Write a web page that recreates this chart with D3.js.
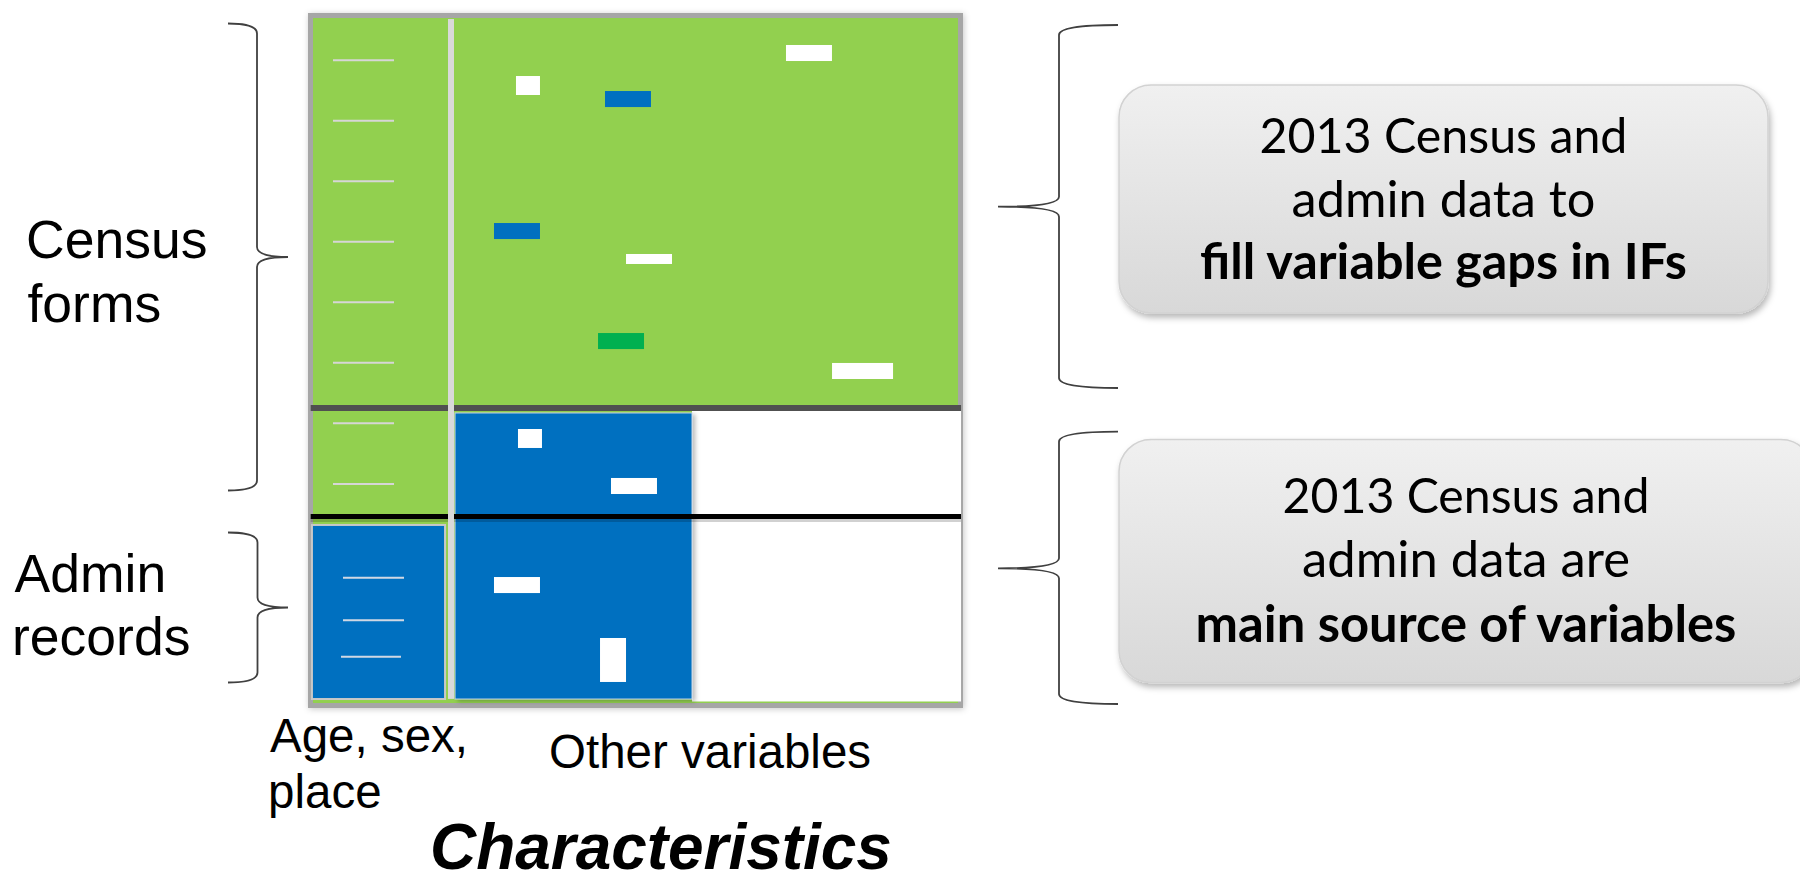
<!DOCTYPE html>
<html><head><meta charset="utf-8">
<script src="https://cdn.jsdelivr.net/npm/d3@7"></script>
<style>html,body{margin:0;padding:0;background:#fff;} svg{display:block;}</style>
</head><body>
<svg id="chart" width="1800" height="874"></svg>
<script>
// ---------- data (percent of the characteristics width / records height) ----------
const leftTickRows   = [6.18, 14.99, 23.84, 32.66, 41.50, 50.32, 59.17, 68.03];
const adminTickRows  = [81.71, 87.93, 93.24];
const adminTickStart = [4.65, 4.65, 4.34];
const adminTickEnd   = [14.11, 14.11, 13.64];

const cellX = [31.47, 45.27, 73.33, 28.06, 48.53, 44.19, 80.47, 31.78, 46.20, 28.06, 44.50];
const cellY = [8.47, 10.66, 3.94, 29.93, 34.45, 45.99, 50.36, 60.00, 67.15, 81.61, 90.51];
const cellW = [3.72, 7.13, 7.13, 7.13, 7.13, 7.13, 9.46, 3.72, 7.13, 7.13, 4.03];
const cellH = [2.77, 2.34, 2.34, 2.34, 1.46, 2.34, 2.34, 2.77, 2.34, 2.34, 6.42];
const cellSource = ["gap","admin","gap","admin","gap","census","gap","gap","gap","gap","gap"];

const sourceKeys   = ["censusForm", "admin", "gap", "census"];
const sourceColors = ["#92d050", "#0070c0", "#ffffff", "#00b050"];

const rowGroupLines = [["Census", "forms"], ["Admin", "records"]];
const colGroupLines = [["Age, sex,", "place"], ["Other variables"]];
const axisTitle = "Characteristics";
const calloutLines = [
  ["2013 Census and", "admin data to", "fill variable gaps in IFs"],
  ["2013 Census and", "admin data are", "main source of variables"]
];

// ---------- setup ----------
const svg = d3.select("#chart");
const x = d3.scaleLinear().domain([0, 100]).range([313, 958]);
const y = d3.scaleLinear().domain([0, 100]).range([18, 703]);
const color = d3.scaleOrdinal().domain(sourceKeys).range(sourceColors);

const defs = svg.append("defs");
const fs1 = defs.append("filter").attr("id","frameShadow").attr("x","-5%").attr("y","-5%").attr("width","110%").attr("height","110%");
fs1.append("feDropShadow").attr("dx",1).attr("dy",1).attr("stdDeviation",3).attr("flood-color","#000").attr("flood-opacity",0.22);
const fs2 = defs.append("filter").attr("id","boxShadow").attr("x","-5%").attr("y","-10%").attr("width","115%").attr("height","125%");
fs2.append("feDropShadow").attr("dx",2).attr("dy",4).attr("stdDeviation",3).attr("flood-color","#000").attr("flood-opacity",0.28);
const fs3 = defs.append("filter").attr("id","blueShadow").attr("x","-5%").attr("y","-5%").attr("width","115%").attr("height","115%");
fs3.append("feDropShadow").attr("dx",3).attr("dy",2).attr("stdDeviation",2).attr("flood-color","#000").attr("flood-opacity",0.25);
const grad = defs.append("linearGradient").attr("id","boxGrad").attr("x1",0).attr("y1",0).attr("x2",0).attr("y2",1);
grad.append("stop").attr("offset","0%").attr("stop-color","#f0f0f0");
grad.append("stop").attr("offset","100%").attr("stop-color","#d8d8d8");

// ---------- matrix ----------
const g = svg.append("g");
// frame
g.append("rect").attr("x", x(0) - 2.5).attr("y", y(0) - 2.5)
  .attr("width", x(100) - x(0) + 5).attr("height", y(100) - y(0) + 5)
  .attr("fill", color("censusForm")).attr("stroke", "#a6a6a6").attr("stroke-width", 5)
  .attr("filter", "url(#frameShadow)");

// not-collected area (white)
g.append("rect").attr("x", x(58.76)).attr("y", y(57.37))
  .attr("width", x(100.47) - x(58.76)).attr("height", y(99.78) - y(57.37))
  .attr("fill", "#ffffff");
// admin block among other variables
g.append("rect").attr("x", x(22.02)).attr("y", y(57.66))
  .attr("width", x(58.76) - x(22.02)).attr("height", y(99.42) - y(57.66))
  .attr("fill", color("admin")).attr("stroke", "#c5d3e3").attr("stroke-width", 1)
  .attr("filter", "url(#blueShadow)");
// admin block for age/sex/place
g.append("rect").attr("x", x(-0.16)).attr("y", y(74.01))
  .attr("width", x(20.47) - x(-0.16)).attr("height", y(99.42) - y(74.01))
  .attr("fill", color("admin")).attr("stroke", "#c8c8c8").attr("stroke-width", 2);

// ticks in left column
g.selectAll(".ltick").data(leftTickRows).join("line").attr("class","ltick")
  .attr("x1", x(3.1)).attr("x2", x(12.56))
  .attr("y1", d => y(d)).attr("y2", d => y(d))
  .attr("stroke", "#d6d6d6").attr("stroke-width", 2);
g.selectAll(".atick").data(adminTickRows).join("line").attr("class","atick")
  .attr("x1", (d,i) => x(adminTickStart[i])).attr("x2", (d,i) => x(adminTickEnd[i]))
  .attr("y1", d => y(d)).attr("y2", d => y(d))
  .attr("stroke", "#d0d8e4").attr("stroke-width", 2);

// cells
g.selectAll(".cell").data(cellX).join("rect").attr("class","cell")
  .attr("x", d => x(d)).attr("y", (d,i) => y(cellY[i]))
  .attr("width", (d,i) => x(d + cellW[i]) - x(d))
  .attr("height", (d,i) => y(cellY[i] + cellH[i]) - y(cellY[i]))
  .attr("fill", (d,i) => color(cellSource[i]));

// horizontal separators
const segs = [[-0.36, 20.93], [21.86, 100.47]];
g.selectAll(".dline").data(segs).join("line").attr("class","dline")
  .attr("x1", d => x(d[0])).attr("x2", d => x(d[1]))
  .attr("y1", y(56.93)).attr("y2", y(56.93))
  .attr("stroke", "#505050").attr("stroke-width", 6);
// soft shadow under the black separator
g.selectAll(".bshadow").data(segs).join("line").attr("class","bshadow")
  .attr("x1", d => x(d[0])).attr("x2", d => x(d[1]))
  .attr("y1", y(72.77) + 3.5).attr("y2", y(72.77) + 3.5)
  .attr("stroke", "#000").attr("stroke-opacity", 0.18).attr("stroke-width", 4);
g.selectAll(".bline").data(segs).join("line").attr("class","bline")
  .attr("x1", d => x(d[0])).attr("x2", d => x(d[1]))
  .attr("y1", y(72.77)).attr("y2", y(72.77))
  .attr("stroke", "#000").attr("stroke-width", 5);
// vertical divider
g.append("rect").attr("x", x(20.93)).attr("y", y(0.15))
  .attr("width", x(21.86) - x(20.93)).attr("height", y(99.4) - y(0.15))
  .attr("fill", "#d9d9d9");

// ---------- braces ----------
function brace(xEnd, xV, xTip, top, mid, bot, r) {
  return `M${xEnd},${top} Q${xV},${top} ${xV},${top + r} L${xV},${mid - r} Q${xV},${mid} ${xTip},${mid} ` +
         `Q${xV},${mid} ${xV},${mid + r} L${xV},${bot - r} Q${xV},${bot} ${xEnd},${bot}`;
}
const braces = [
  brace(228, 257, 288, 23.5, 257, 490.5, 10),
  brace(228, 257.5, 288, 532.5, 607.5, 682.5, 10),
  brace(1118, 1059, 998, 25, 206.7, 388, 10),
  brace(1118, 1059, 998, 431.7, 568.3, 704, 10)
];
svg.selectAll(".brace").data(braces).join("path").attr("class","brace")
  .attr("d", d => d).attr("fill", "none").attr("stroke", "#404040").attr("stroke-width", 1.8);

// ---------- left labels ----------
const lab = svg.append("g").attr("font-family", "'Liberation Sans', Arial, sans-serif").attr("fill", "#000");
lab.append("text").attr("font-size", 53.5).attr("x", 26).attr("y", 258).text(rowGroupLines[0][0]);
lab.append("text").attr("font-size", 53.5).attr("x", 27.5).attr("y", 322).text(rowGroupLines[0][1]);
lab.append("text").attr("font-size", 53.5).attr("x", 14.5).attr("y", 591.5).text(rowGroupLines[1][0]);
lab.append("text").attr("font-size", 53.5).attr("x", 12).attr("y", 654.5).text(rowGroupLines[1][1]);

// bottom labels
lab.append("text").attr("font-size", 47.5).attr("x", 270).attr("y", 752).text(colGroupLines[0][0]);
lab.append("text").attr("font-size", 47.5).attr("x", 268).attr("y", 808).text(colGroupLines[0][1]);
lab.append("text").attr("font-size", 47.5).attr("x", 549).attr("y", 768).text(colGroupLines[1][0]);

function fit(sel, target) {
  const w = sel.node().getComputedTextLength();
  const f = parseFloat(sel.attr("font-size"));
  if (w > 0) sel.attr("font-size", f * target / w);
  return sel;
}
const title = lab.append("text").attr("font-size", 63).attr("font-weight", 700).attr("font-style", "italic")
  .attr("x", 430).attr("y", 869).text(axisTitle);
fit(title, 462);

// ---------- callout boxes ----------
const boxes = [
  {x: 1119, y: 85, w: 649, h: 228, cx: 1443.5, base: [153, 216.7, 278.5], widths: [368, 304, 487]},
  {x: 1119, y: 439.5, w: 694, h: 243, cx: 1466, base: [513, 577, 641.5], widths: [367, 328, 541]}
];
boxes.forEach((b, bi) => {
  svg.append("rect").attr("x", b.x).attr("y", b.y).attr("width", b.w).attr("height", b.h)
    .attr("rx", 32).attr("ry", 32).attr("fill", "url(#boxGrad)")
    .attr("stroke", "#d2d2d2").attr("stroke-width", 1.5).attr("filter", "url(#boxShadow)");
  calloutLines[bi].forEach((t, li) => {
    const tx = svg.append("text").attr("x", b.cx).attr("y", b.base[li])
      .attr("text-anchor", "middle").attr("font-family", "Lato, 'Open Sans', sans-serif")
      .attr("font-size", 50).attr("font-weight", li === 2 ? 700 : 400).attr("fill", "#000").text(t);
    fit(tx, b.widths[li]);
  });
});
</script>
</body></html>
